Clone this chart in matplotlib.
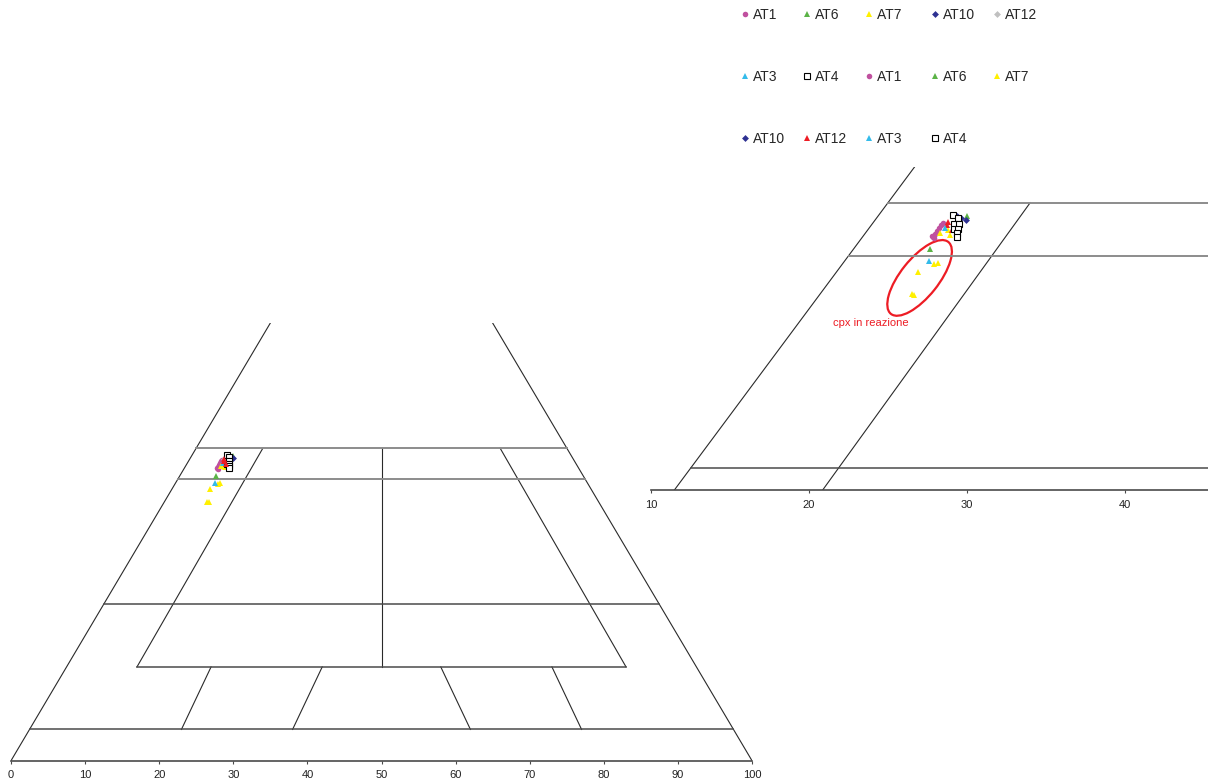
import numpy as np
import matplotlib
matplotlib.use("Agg")
import matplotlib.pyplot as plt
from matplotlib.patches import Ellipse
from matplotlib.transforms import ScaledTranslation

plt.rcParams['font.family'] = ['Liberation Sans', 'DejaVu Sans']

# composizioni dei pirosseni (Wo, Fs in %)
at1_wo = [46.8, 47.05, 47.34, 47.62, 47.9, 48.09, 46.68, 46.86]
at1_fs = [4.47, 4.45, 4.43, 4.42, 4.40, 4.44, 4.60, 4.35]
at6_wo = [48.75, 45.61]
at6_fs = [5.63, 4.87]
at7_wo = [47.12, 46.96, 47.43, 44.23, 44.35, 43.47, 41.37, 41.31]
at7_fs = [4.73, 5.44, 5.10, 5.79, 6.00, 5.16, 5.82, 6.00]
at10_wo = [48.37, 48.56, 48.75, 48.18]
at10_fs = [5.74, 5.34, 4.98, 5.34]
at12_wo = [47.9, 47.43, 48.18]
at12_fs = [4.76, 5.32, 4.71]
at3_wo = [47.59, 44.48]
at3_fs = [4.82, 5.34]
at4_wo = [48.84, 48.56, 47.99, 47.99, 47.52, 47.52, 47.15, 46.77]
at4_fs = [4.69, 5.15, 5.19, 5.48, 5.42, 5.67, 5.78, 5.99]

campioni = ['AT1', 'AT6', 'AT7', 'AT10', 'AT12', 'AT3', 'AT4']
dati = {
    'AT1': (at1_fs, at1_wo), 'AT6': (at6_fs, at6_wo), 'AT7': (at7_fs, at7_wo),
    'AT10': (at10_fs, at10_wo), 'AT12': (at12_fs, at12_wo),
    'AT3': (at3_fs, at3_wo), 'AT4': (at4_fs, at4_wo),
}

# simboli: (marker, colore, dimensione)
stile1 = {
    'AT1': ('o', '#c0509f', 4), 'AT6': ('^', '#5bb346', 5), 'AT7': ('^', '#fff000', 5),
    'AT10': ('D', '#2e3192', 3.5), 'AT12': ('D', '#c0c0c0', 3.5),
    'AT3': ('^', '#33bbea', 5), 'AT4': ('s', 'white', 3.8),
}
stile2 = dict(stile1)
stile2['AT12'] = ('^', '#ed1c24', 5)

# linee del quadrilatero (x, Wo)
lati = [((0, 35), (0, 70)), ((100, 65), (0, 70))]
orizz_grigie = [(50, 25, 75), (45, 22.5, 77.5)]
orizz_scure = [(25, 12.5, 87.5), (15, 17, 83), (5, 2.5, 97.5)]
interne = [((17, 34), (15, 50)), ((83, 66), (15, 50)), ((50, 50), (15, 50)),
           ((23, 27), (5, 15)), ((38, 42), (5, 15)), ((62, 58), (5, 15)), ((77, 73), (5, 15))]


def proietta(fs, wo):
    return np.array(fs) + np.array(wo) / 2, np.array(wo)


def disegna_quadrilatero(ax):
    for xs, ys in lati + interne:
        ax.plot(xs, ys, color='#2a2a2a', lw=0.8)
    for wo, x0, x1 in orizz_grigie:
        ax.plot([x0, x1], [wo, wo], color='#8c8c8c', lw=1.4)
    for wo, x0, x1 in orizz_scure:
        ax.plot([x0, x1], [wo, wo], color='#4a4a4a', lw=1.1)
    for s in ['top', 'left', 'right']:
        ax.spines[s].set_visible(False)
    ax.spines['bottom'].set_color('#4a4a4a')
    ax.spines['bottom'].set_linewidth(1.2)
    ax.set_yticks([])
    ax.tick_params(axis='x', direction='out', length=2.5, width=0.8, color='#4a4a4a',
                   labelsize=8, pad=4.5, labelcolor='#222222')
    ax.set_facecolor('none')


def disegna_punti(ax, stile):
    handles = []
    for c in campioni:
        m, col, ms = stile[c]
        x, y = proietta(*dati[c])
        if m == 's':
            h, = ax.plot(x, y, ls='none', marker=m, ms=ms, mfc='white', mec='black', mew=0.8, label=c)
        else:
            h, = ax.plot(x, y, ls='none', marker=m, ms=ms, mfc=col, mec=col, mew=0, label=c)
        handles.append(h)
    return handles


W, H = 1208, 784
fig = plt.figure(figsize=(W / 100, H / 100), dpi=100)

ax = fig.add_axes([11 / W, 1 - 760.7 / H, 741 / W, 437.7 / H])
ax.set_xlim(0, 100)
ax.set_ylim(0, 70)
disegna_quadrilatero(ax)
ax.set_xticks(range(0, 101, 10))
h1 = disegna_punti(ax, stile1)
ax.plot(*proietta(at12_fs, at12_wo), ls='none', marker='^', ms=5, mfc='#ed1c24', mec='#ed1c24', mew=0)

ax2 = fig.add_axes([651 / W, 1 - 490 / H, 557 / W, 322.7 / H])
ax2.set_xlim(10, 10 + 557 / 15.8)
ax2.set_ylim(22.96, 53.33)
disegna_quadrilatero(ax2)
ax2.set_xticks([10, 20, 30, 40])
h2 = disegna_punti(ax2, stile2)

# ellisse e nota
trans = fig.dpi_scale_trans + ScaledTranslation(27.0, 42.92, ax2.transData)
ax2.add_patch(Ellipse((0, 0), 0.92, 0.38, angle=51.4, transform=trans,
                      fill=False, edgecolor='#ed1c24', lw=1.6, clip_on=False))
ax2.text(23.89, 38.64, 'cpx in reazione', color='#ed1c24', fontsize=8, ha='center', va='center')

handles = h1 + h2
ordine = [0, 5, 10, 1, 6, 11, 2, 7, 12, 3, 8, 13, 4, 9]
hh = [handles[i] for i in ordine]
etichette = [h.get_label() for h in hh]
# terza colonna più stretta: spazi per allineare le colonne come nell'originale
for i in (6, 7, 8):
    etichette[i] = etichette[i] + '   '
fig.legend(hh, etichette, loc='upper left',
           bbox_to_anchor=(741.5 / W, 1 - 8 / H), ncol=5, frameon=False, fontsize=10,
           handlelength=0.5, handletextpad=0.35, columnspacing=1.3, labelspacing=3.45,
           borderpad=0, borderaxespad=0, labelcolor='#262626')

fig.savefig('out.png', dpi=100)
